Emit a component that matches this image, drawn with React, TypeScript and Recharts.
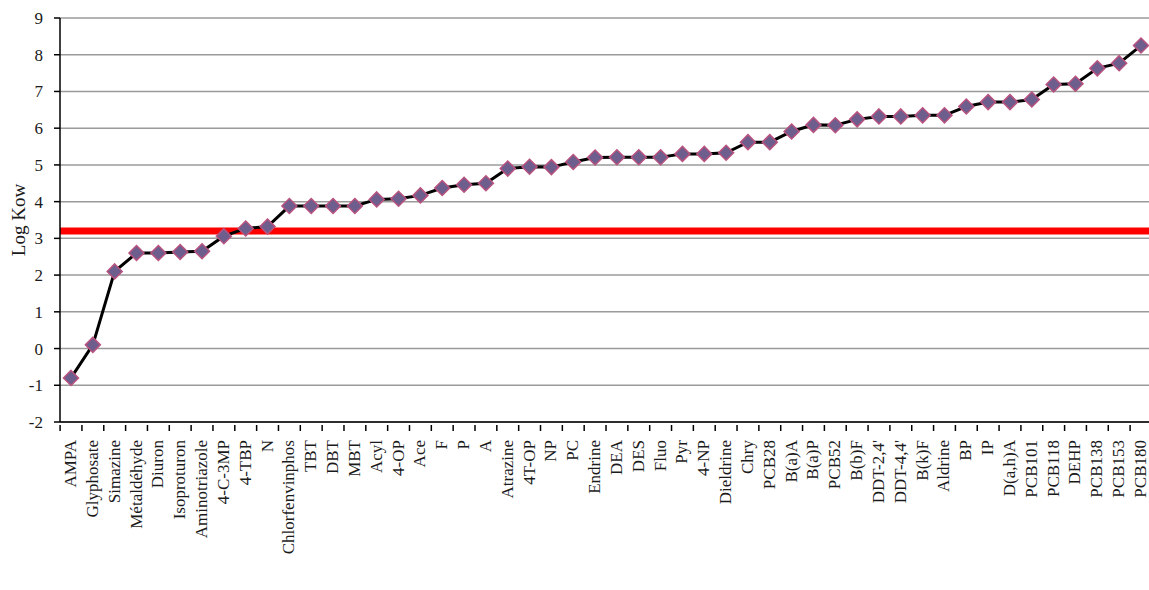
import { LineChart, Line, XAxis, YAxis, CartesianGrid, ReferenceLine, Label } from 'recharts';

const compounds = [
  'AMPA', 'Glyphosate', 'Simazine', 'Métaldéhyde', 'Diuron', 'Isoproturon', 'Aminotriazole',
  '4-C-3MP', '4-TBP', 'N', 'Chlorfenvinphos', 'TBT', 'DBT', 'MBT', 'Acyl', '4-OP', 'Ace', 'F',
  'P', 'A', 'Atrazine', '4T-OP', 'NP', 'PC', 'Endrine', 'DEA', 'DES', 'Fluo', 'Pyr', '4-NP',
  'Dieldrine', 'Chry', 'PCB28', 'B(a)A', 'B(a)P', 'PCB52', 'B(b)F', "DDT-2,4'", "DDT-4,4'",
  'B(k)F', 'Aldrine', 'BP', 'IP', 'D(a,h)A', 'PCB101', 'PCB118', 'DEHP', 'PCB138', 'PCB153',
  'PCB180',
];

const logKow = [
  -0.8, 0.1, 2.1, 2.6, 2.6, 2.63, 2.65, 3.06, 3.27, 3.32, 3.88, 3.88, 3.88, 3.88, 4.06, 4.08,
  4.17, 4.37, 4.46, 4.5, 4.9, 4.95, 4.94, 5.08, 5.2, 5.21, 5.21, 5.21, 5.3, 5.3, 5.33, 5.62,
  5.62, 5.91, 6.09, 6.08, 6.24, 6.32, 6.32, 6.35, 6.35, 6.59, 6.71, 6.71, 6.78, 7.19, 7.21,
  7.63, 7.77, 8.25,
];

const yTicks = [-2, -1, 0, 1, 2, 3, 4, 5, 6, 7, 8, 9];
const threshold = 3.2;

const data = compounds.map((name, i) => ({ name, value: logKow[i] }));

const FONT = '"Liberation Serif", "DejaVu Serif", serif';
const HALF_STEP = 10.9;

function CategoryTick(props: any) {
  const { x, y, payload } = props;
  return (
    <g>
      <line x1={x - HALF_STEP} y1={y - 5} x2={x - HALF_STEP} y2={y + 1} stroke="#000" strokeWidth={1.5} />
      <text
        transform={`translate(${x + 5},${y + 10}) rotate(-90)`}
        textAnchor="end"
        fontFamily={FONT}
        fontSize={17}
        fill="#1a1a1a"
      >
        {payload.value}
      </text>
    </g>
  );
}

function Diamond(props: any) {
  const { cx, cy, index } = props;
  if (cx == null || cy == null) return <g key={index} />;
  const r = 7.5;
  return (
    <path
      key={index}
      d={`M${cx},${cy - r} L${cx + r},${cy} L${cx},${cy + r} L${cx - r},${cy} Z`}
      fill="#6d5e8e"
      stroke="#b9527e"
      strokeWidth={1.5}
    />
  );
}

export default function App() {
  return (
    <div style={{ position: 'absolute', left: 0, top: 0, background: '#fff' }}>
      <LineChart
        width={1149}
        height={590}
        data={data}
        margin={{ top: 18, right: 0, bottom: 8, left: 0 }}
      >
        <CartesianGrid vertical={false} stroke="#9a9a9a" strokeWidth={1.5} />
        <XAxis
          dataKey="name"
          interval={0}
          height={160}
          padding={{ left: 11, right: 8 }}
          stroke="#000"
          strokeWidth={1.5}
          tickLine={false}
          tick={<CategoryTick />}
        />
        <YAxis
          width={60}
          domain={[-2, 9]}
          ticks={yTicks}
          interval={0}
          stroke="#000"
          strokeWidth={1.5}
          tickSize={6}
          tickMargin={11}
          tick={{ fill: '#1a1a1a', fontSize: 17, fontFamily: FONT }}
        >
          <Label
            content={({ viewBox }: any) => (
              <text
                transform={`translate(${viewBox.x + 25},${viewBox.y + viewBox.height / 2}) rotate(-90)`}
                textAnchor="middle"
                fontFamily={FONT}
                fontSize={19}
                fill="#1a1a1a"
              >
                Log Kow
              </text>
            )}
          />
        </YAxis>
        <ReferenceLine y={threshold} stroke="#ff0000" strokeWidth={7} />
        <Line
          type="linear"
          dataKey="value"
          stroke="#000"
          strokeWidth={3}
          dot={<Diamond />}
          activeDot={false}
          isAnimationActive={false}
        />
      </LineChart>
    </div>
  );
}
